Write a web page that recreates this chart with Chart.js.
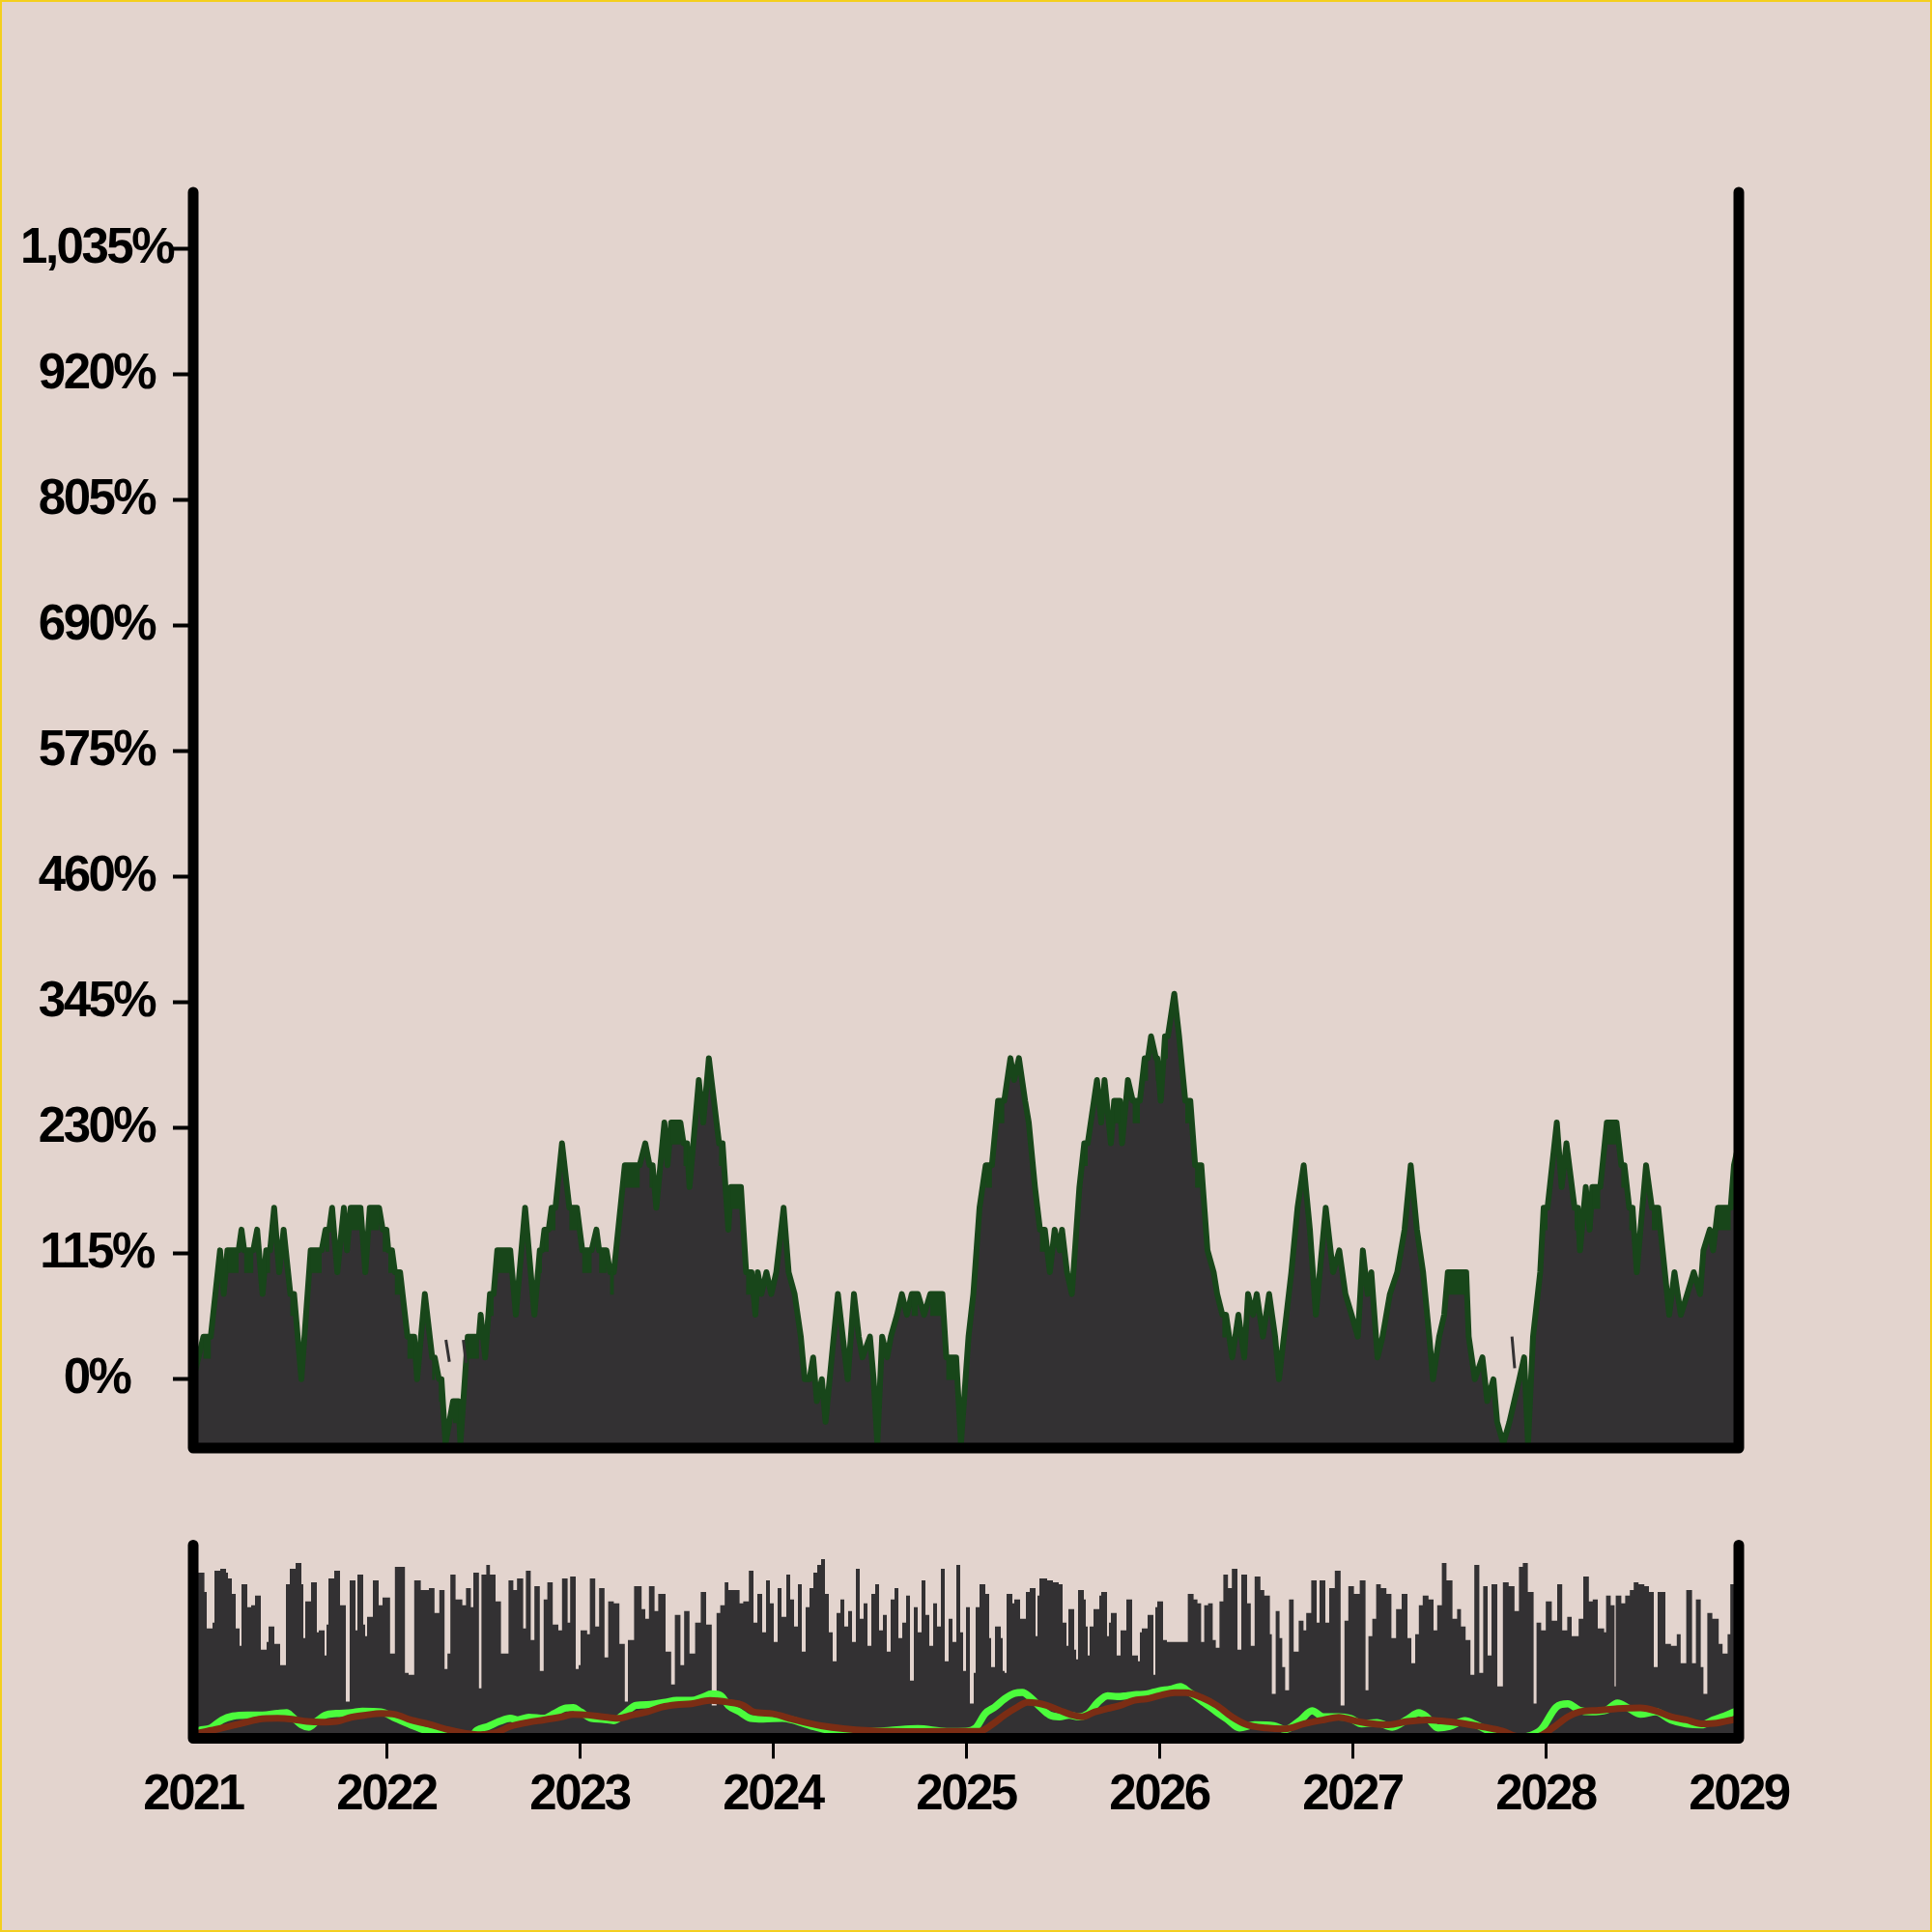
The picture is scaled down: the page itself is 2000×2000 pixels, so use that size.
<!DOCTYPE html>
<html><head><meta charset="utf-8">
<script src="https://cdn.jsdelivr.net/npm/chart.js@4.4.1/dist/chart.umd.min.js"></script>
<style>
html,body{margin:0;padding:0;background:#e3d4ce;}
#stage{position:absolute;left:0;top:0;width:2000px;height:2000px;background:#e3d4ce;overflow:hidden;}
#main{position:absolute;left:0;top:0;}
#nav{position:absolute;left:0;top:1560px;}
#edge{position:absolute;left:0;top:0;width:2000px;height:2000px;box-sizing:border-box;border:2px solid #f4cf1d;pointer-events:none;}
</style></head><body>
<div id="stage">
<canvas id="main" width="2000" height="1540" style="width:2000px;height:1540px"></canvas>
<canvas id="nav" width="2000" height="440" style="width:2000px;height:440px"></canvas>
<div id="edge"></div>
</div>
<script>
// ---------- DATA ----------
const xTicks = [2021,2022,2023,2024,2025,2026,2027,2028,2029];
const yTicks = [0,115,230,345,460,575,690,805,920,1035];
const yMin = -63, yMax = 1086;

// main series vertices (year, %)
const mainX = [
2021.000,2021.053,2021.091,2021.139,2021.158,2021.177,2021.235,2021.250,2021.264,2021.311,
2021.331,2021.359,2021.378,2021.398,2021.419,2021.445,2021.468,2021.503,2021.522,2021.560,
2021.608,2021.665,2021.685,2021.704,2021.719,2021.746,2021.780,2021.796,2021.815,2021.866,
2021.891,2021.914,2021.962,2021.981,2022.000,2022.010,2022.029,2022.044,2022.071,2022.109,
2022.144,2022.159,2022.199,2022.237,2022.250,2022.272,2022.285,2022.306,2022.345,2022.373,
2022.383,2022.421,2022.479,2022.488,2022.511,2022.536,2022.555,2022.574,2022.641,2022.670,
2022.718,2022.766,2022.794,2022.805,2022.818,2022.840,2022.855,2022.875,2022.909,2022.947,
2022.986,2023.014,2023.062,2023.087,2023.101,2023.139,2023.158,2023.177,2023.234,2023.311,
2023.340,2023.362,2023.378,2023.397,2023.439,2023.455,2023.474,2023.522,2023.538,2023.556,
2023.569,2023.617,2023.640,2023.669,2023.722,2023.740,2023.770,2023.783,2023.835,2023.862,
2023.890,
2023.910,2023.922,2023.941,2023.967,2023.992,2024.018,2024.056,2024.082,2024.113,2024.145,
2024.165,2024.190,2024.209,2024.228,2024.254,2024.273,2024.305,2024.337,2024.362,2024.388,
2024.420,2024.445,2024.464,2024.503,2024.522,2024.541,2024.566,2024.592,2024.611,2024.643,
2024.668,2024.694,2024.719,2024.751,2024.783,2024.815,2024.878,2024.898,2024.949,2024.974,
2025.013,2025.038,2025.070,2025.102,2025.134,2025.166,2025.198,2025.230,2025.249,2025.274,
2025.306,2025.325,2025.357,2025.383,2025.408,2025.434,2025.459,2025.485,2025.497,2025.523,
2025.548,2025.587,2025.612,2025.630,2025.678,2025.700,2025.717,2025.750,2025.767,2025.797,
2025.808,2025.838,2025.863,2025.900,2025.925,2025.942,2025.958,2025.983,2025.990,2026.008,
2026.030,2026.045,2026.078,2026.103,2026.135,2026.161,2026.186,2026.218,2026.250,2026.282,
2026.300,2026.327,2026.346,2026.378,2026.410,2026.440,2026.460,2026.486,2026.505,2026.537,
2026.569,2026.600,2026.620,2026.684,2026.716,2026.748,2026.780,2026.811,2026.862,2026.900,
2026.932,2026.964,2026.996,2027.028,2027.054,2027.079,2027.098,2027.130,2027.156,2027.194,
2027.232,2027.270,2027.302,2027.334,2027.366,2027.398,2027.417,2027.449,2027.475,2027.494,
2027.589,2027.602,2027.634,2027.673,2027.698,2027.730,2027.749,2027.781,2027.813,2027.864,
2027.889,2027.909,2027.935,2027.972,2027.990,
2028.010,2028.058,2028.083,2028.108,2028.150,2028.167,2028.178,2028.208,2028.228,2028.242,
2028.283,2028.317,2028.367,2028.392,2028.408,2028.433,2028.450,2028.472,2028.520,2028.550,
2028.583,2028.640,2028.667,2028.700,2028.733,2028.767,2028.800,2028.817,2028.850,2028.867,
2028.892,2028.958,2028.975,2029.000];
const mainY = [
0,39,39,118,78,118,118,137,118,118,
137,78,118,118,157,98,137,78,78,0,
118,118,137,137,157,98,157,118,157,157,
98,157,157,137,137,118,118,98,98,39,
39,0,78,20,20,0,0,-59,-20,-20,
-59,39,39,59,20,78,78,118,118,59,
157,59,118,118,137,137,157,157,216,157,
157,118,118,137,118,118,98,98,196,196,
216,196,196,157,235,196,235,235,216,216,
176,274,235,294,216,216,137,176,176,98,
98,
59,98,78,98,78,98,157,98,78,39,
0,0,20,-20,0,-39,20,78,39,0,
78,39,20,39,0,-59,39,20,39,59,
78,59,78,78,59,78,78,20,20,-59,
39,78,157,196,196,255,255,294,274,294,
255,235,176,137,137,98,137,118,137,98,
78,176,216,216,274,235,274,216,255,255,
216,274,255,255,294,294,314,294,294,255,
314,314,353,314,255,255,196,196,118,98,
78,59,59,20,59,20,78,59,78,39,
78,39,0,98,157,196,137,59,157,98,
118,78,59,39,118,78,98,20,39,78,
98,137,196,137,98,39,0,39,59,98,
98,39,0,20,-20,0,-39,-59,-39,0,
20,-59,39,98,157,
157,235,176,216,157,157,118,176,137,176,
176,235,235,196,196,157,157,98,196,157,
157,59,98,59,78,98,78,118,137,118,
157,157,196,216];

// stretches where the series flickers between two adjacent levels
const bandFrom = [
2021.053,2021.177,2021.264,2021.378,2021.503,2021.608,2021.685,2021.815,2021.914,2021.981,
2022.010,2022.044,2022.109,2022.237,2022.272,2022.345,2022.421,2022.536,2022.574,2022.794,
2022.818,2022.855,2022.947,2023.014,2023.101,2023.158,2023.234,2023.362,2023.474,2023.538,
2023.722,2023.783,2023.862,2024.719,2024.815,2024.898,2025.102,2025.166,2025.383,2025.612,
2025.767,2025.863,2025.925,2025.983,2026.030,2026.135,2026.186,2026.327,2027.494,2027.990,
2028.150,2028.242,2028.317,2028.392,2028.433,2028.550,2028.892];
const bandTo = [
2021.091,2021.235,2021.311,2021.398,2021.522,2021.665,2021.704,2021.866,2021.962,2022.000,
2022.029,2022.071,2022.144,2022.250,2022.285,2022.373,2022.479,2022.555,2022.641,2022.805,
2022.840,2022.875,2022.986,2023.062,2023.139,2023.177,2023.311,2023.378,2023.522,2023.556,
2023.740,2023.835,2023.890,2024.751,2024.878,2024.949,2025.134,2025.198,2025.408,2025.630,
2025.797,2025.900,2025.942,2025.990,2026.045,2026.161,2026.218,2026.346,2027.589,2028.010,
2028.167,2028.283,2028.367,2028.408,2028.450,2028.583,2028.958];
const bandLow = [
20,98,98,98,59,98,118,137,137,118,
98,78,20,0,-20,-39,20,59,98,98,
118,137,137,98,98,78,176,176,216,196,
196,157,78,59,59,0,176,235,118,196,
235,235,274,274,294,235,176,39,78,137,
137,157,216,176,137,137,137];
const bandHigh = [
39,118,118,118,78,118,137,157,157,137,
118,98,39,20,0,-20,39,78,118,118,
137,157,157,118,118,98,196,196,235,216,
216,176,98,78,78,20,196,255,137,216,
255,255,294,294,314,255,196,59,98,157,
157,176,235,196,157,157,157];

// thin dark strokes standing above the area where the series leaves the axis range
const stubFrom = [2022.308, 2022.398, 2027.826];
const stubTop = [36, 36, 39];
const stubTo = [2022.326, 2022.412, 2027.840];
const stubBottom = [16, 15, 10];

// navigator histogram: start year of each bar and its height (0-100)
const navX = [
2021.000,2021.058,2021.070,2021.100,2021.110,2021.140,2021.170,2021.180,2021.200,2021.220,2021.240,2021.250,2021.280,2021.300,2021.320,2021.350,2021.380,2021.390,2021.420,2021.450,2021.480,2021.500,2021.530,2021.560,2021.570,2021.580,2021.610,2021.640,2021.650,2021.680,2021.690,2021.700,2021.730,2021.760,2021.790,2021.810,2021.840,2021.850,2021.880,2021.890,2021.900,2021.930,2021.960,2021.980,
2022.019,2022.044,2022.096,2022.115,2022.144,2022.178,2022.220,2022.249,2022.274,2022.301,2022.316,2022.331,2022.358,2022.393,2022.412,2022.437,2022.450,2022.479,2022.492,2022.517,2022.536,2022.565,2022.593,2022.632,2022.657,2022.676,2022.708,2022.722,2022.747,2022.766,2022.794,2022.814,2022.833,2022.861,2022.890,2022.909,2022.938,2022.951,2022.980,2022.995,
2023.005,2023.039,2023.053,2023.081,2023.101,2023.129,2023.148,2023.177,2023.206,2023.234,2023.250,2023.282,2023.321,2023.340,2023.359,2023.388,2023.407,2023.445,2023.474,2023.493,2023.522,2023.541,2023.569,2023.598,2023.627,2023.655,2023.684,2023.709,2023.728,2023.751,2023.770,2023.828,2023.847,2023.876,
2023.900,2023.920,2023.945,2023.965,2023.985,2024.005,2024.025,2024.045,2024.070,2024.090,2024.110,2024.130,2024.150,2024.170,2024.190,2024.210,2024.230,2024.250,2024.270,2024.290,2024.310,2024.330,2024.350,2024.370,2024.390,2024.410,2024.430,2024.450,2024.470,2024.490,2024.510,2024.530,2024.550,2024.570,2024.590,2024.610,2024.630,2024.650,2024.670,2024.690,2024.710,2024.730,2024.750,2024.770,2024.790,2024.810,2024.830,2024.850,2024.870,2024.890,2024.910,2024.930,2024.950,2024.970,2024.985,
2025.000,2025.020,2025.040,2025.050,2025.070,2025.100,2025.120,2025.130,2025.150,2025.180,2025.190,2025.200,2025.210,2025.240,2025.250,2025.280,2025.310,2025.330,2025.360,2025.370,2025.380,2025.410,2025.420,2025.450,2025.480,2025.500,2025.520,2025.530,2025.560,2025.570,2025.580,2025.610,2025.620,2025.630,2025.640,2025.660,2025.690,2025.700,2025.730,2025.740,2025.750,2025.780,2025.800,2025.830,2025.860,2025.890,2025.900,2025.910,2025.940,2025.970,2025.980,2025.990,
2026.000,2026.020,2026.040,2026.148,2026.178,2026.198,2026.217,2026.233,2026.253,2026.277,2026.293,2026.312,2026.332,2026.356,2026.376,2026.405,2026.425,2026.455,2026.474,2026.494,2026.524,2026.544,2026.573,2026.583,2026.603,2026.623,2026.637,2026.652,2026.672,2026.696,2026.722,2026.747,2026.761,2026.787,2026.815,2026.830,2026.860,2026.880,2026.909,2026.939,2026.959,2026.979,
2027.008,2027.038,2027.068,2027.083,2027.103,2027.123,2027.147,2027.176,2027.202,2027.226,2027.255,2027.285,2027.305,2027.325,2027.344,2027.364,2027.394,2027.420,2027.439,2027.463,2027.487,2027.518,2027.542,2027.562,2027.586,2027.611,2027.631,2027.657,2027.677,2027.700,2027.720,2027.750,2027.779,2027.809,2027.839,2027.862,2027.882,2027.908,2027.938,2027.953,2027.977,
2028.001,2028.032,2028.060,2028.086,2028.112,2028.135,2028.171,2028.195,2028.224,2028.244,2028.270,2028.303,2028.313,2028.337,2028.357,2028.363,2028.392,2028.412,2028.436,2028.456,2028.481,2028.511,2028.535,2028.560,2028.580,2028.620,2028.649,2028.679,2028.699,2028.728,2028.758,2028.778,2028.803,2028.817,2028.837,2028.863,2028.896,2028.916,2028.942,2028.956];
const navH = [
86,76,57,60,87,88,86,83,75,57,48,80,68,69,74,46,50,58,49,38,80,88,91,80,52,71,81,55,56,43,59,83,87,69,19,82,56,85,59,53,63,82,69,73,
44,89,34,33,82,77,78,65,77,36,44,85,72,69,78,68,86,26,85,90,85,71,44,82,77,83,57,87,51,79,35,72,81,59,56,83,60,84,36,38,
56,54,83,58,78,42,71,70,49,19,51,79,67,62,79,66,75,45,28,64,38,66,44,60,76,59,17,65,69,81,77,70,71,87,
60,75,55,82,70,50,78,63,85,72,58,80,45,68,78,86,90,93,75,55,40,65,72,58,66,50,88,62,70,48,75,80,56,64,45,72,78,52,60,74,30,68,55,82,64,48,70,58,88,40,62,50,90,55,35,
68,18,34,68,80,75,52,37,58,52,35,34,75,70,72,62,76,78,53,74,83,83,82,81,80,60,48,67,46,41,77,72,58,43,58,67,74,76,53,60,65,43,56,72,43,40,55,57,64,33,68,71,
71,51,50,75,72,70,50,69,70,51,47,71,85,78,88,46,85,70,48,84,77,74,54,23,66,52,37,25,72,45,61,56,65,82,60,82,60,78,87,17,61,79,
75,82,25,53,62,80,78,75,52,67,75,52,39,54,69,74,72,56,69,91,82,62,67,58,51,33,90,34,79,43,80,27,81,79,66,89,91,76,18,60,56,
71,61,80,56,63,53,62,84,71,72,57,55,74,69,27,74,70,74,77,81,80,79,76,37,76,49,48,54,39,77,39,72,37,23,65,62,49,44,54,80];

// navigator fast average (green) and slow average (brown), in %
const greenX = [2021.034,2021.091,2021.149,2021.206,2021.283,2021.359,2021.436,2021.484,2021.512,2021.560,2021.598,2021.637,2021.685,2021.742,2021.818,2021.876,2021.972,2022.048,2022.125,2022.201,2022.278,2022.354,2022.431,2022.469,2022.526,2022.584,2022.641,2022.680,2022.737,2022.814,2022.871,2022.928,2022.967,2023.005,2023.062,2023.120,2023.177,2023.234,2023.292,2023.368,2023.445,2023.502,2023.579,2023.636,2023.684,2023.732,2023.770,2023.828,2023.885,2023.950,2024.050,2024.100,2024.200,2024.300,2024.450,2024.600,2024.750,2024.900,2025.000,2025.050,2025.100,2025.150,2025.200,2025.250,2025.292,2025.333,2025.383,2025.433,2025.483,2025.533,2025.583,2025.633,2025.683,2025.733,2025.783,2025.833,2025.883,2025.933,2026.000,2026.059,2026.109,2026.158,2026.217,2026.297,2026.356,2026.415,2026.494,2026.593,2026.652,2026.732,2026.791,2026.850,2026.929,2026.989,2027.048,2027.127,2027.206,2027.285,2027.344,2027.384,2027.443,2027.503,2027.582,2027.641,2027.720,2027.819,2027.918,2027.977,2028.056,2028.115,2028.175,2028.234,2028.313,2028.372,2028.432,2028.491,2028.570,2028.649,2028.728,2028.807,2028.867,2028.926,2028.966,2029.000];
const greenY = [46,59,105,127,133,133,142,146,123,77,64,96,133,142,146,155,151,114,77,46,32,5,5,46,68,96,114,105,120,114,142,173,175,151,114,109,101,142,188,193,206,216,216,234,253,243,188,151,114,110,115,105,70,45,39,44,55,39,40,59,142,179,225,256,262,234,179,133,123,133,123,142,206,243,238,243,249,252,271,280,295,261,216,151,105,59,77,72,50,105,157,123,123,114,83,90,64,109,146,123,59,68,101,77,35,0,15,50,179,197,160,151,160,201,170,138,151,105,83,77,105,127,146,160];
const brownX = [2021.034,2021.130,2021.244,2021.340,2021.436,2021.512,2021.589,2021.665,2021.742,2021.818,2021.895,2021.972,2022.048,2022.125,2022.220,2022.316,2022.412,2022.488,2022.565,2022.641,2022.737,2022.814,2022.909,2022.967,2023.043,2023.120,2023.196,2023.273,2023.349,2023.426,2023.502,2023.579,2023.675,2023.770,2023.847,2023.900,2024.000,2024.100,2024.250,2024.500,2024.750,2025.000,2025.067,2025.133,2025.200,2025.267,2025.317,2025.367,2025.417,2025.483,2025.550,2025.600,2025.667,2025.733,2025.800,2025.867,2025.933,2026.000,2026.079,2026.138,2026.217,2026.297,2026.376,2026.455,2026.554,2026.652,2026.751,2026.850,2026.929,2027.028,2027.107,2027.186,2027.285,2027.384,2027.483,2027.582,2027.681,2027.779,2027.858,2027.957,2028.036,2028.115,2028.175,2028.274,2028.372,2028.491,2028.570,2028.649,2028.728,2028.807,2028.886,2028.966,2029.000];
const brownY = [32,54,83,109,114,109,96,92,96,120,133,142,136,105,81,50,28,20,32,68,92,105,123,136,133,123,114,133,151,179,192,197,216,206,188,151,140,110,72,44,39,40,40,77,133,179,206,201,188,160,133,123,151,170,188,216,225,243,261,261,234,188,123,77,59,54,83,105,120,96,83,77,96,105,96,83,64,41,10,10,59,123,151,160,170,174,157,123,105,83,87,105,110];

// ---------- STYLE ----------
const FONT = '"Liberation Sans", Arial, Helvetica, sans-serif';
const LS = '-2.5px';
const INK = '#000000';
const AREA = '#333133';
const LINE_DARK = '#18461a';
const GREEN = '#4cfc3c';
const BROWN = '#7b2d14';
Chart.defaults.font.family = FONT;

const fmtPct = v => Number(v).toLocaleString('en-US') + '%';
const spacing = {id:'spacing',
  beforeUpdate(c){c.ctx.letterSpacing = LS;},
  beforeLayout(c){c.ctx.letterSpacing = LS;},
  beforeDraw(c){c.ctx.letterSpacing = LS;}};
const frame = {id:'frame', afterDraw(c, args, o){
  const a = c.chartArea, ctx = c.ctx;
  ctx.save(); ctx.strokeStyle = INK; ctx.lineWidth = o.width; ctx.lineCap = 'round'; ctx.lineJoin = 'round';
  ctx.beginPath(); ctx.moveTo(a.left, a.top - o.over); ctx.lineTo(a.left, a.bottom);
  ctx.lineTo(a.right, a.bottom); ctx.lineTo(a.right, a.top - o.over); ctx.stroke(); ctx.restore();
}};

// label padding so that y labels are centred at x = 100
const mc = document.createElement('canvas').getContext('2d');
mc.font = 'bold 51px ' + FONT; mc.letterSpacing = LS;
const widest = Math.max(...yTicks.map(v => mc.measureText(fmtPct(v)).width));
const Y_AXIS_W = 200, Y_TICK = 21, LABEL_CX = 100;
const yPad = Y_AXIS_W - Y_TICK - LABEL_CX - widest / 2;

// ---------- MAIN CHART ----------
const mainPts = mainX.map((x, i) => ({x, y: mainY[i]}));
const bandPts = [];
bandFrom.forEach((f, i) => {
  const m = (bandLow[i] + bandHigh[i]) / 2;
  bandPts.push({x: f, y: m}, {x: bandTo[i], y: m}, {x: bandTo[i], y: null});
});
const stubPts = [];
stubFrom.forEach((f, i) => {
  stubPts.push({x: f, y: stubTop[i]}, {x: stubTo[i], y: stubBottom[i]}, {x: stubTo[i], y: null});
});

new Chart(document.getElementById('main'), {
  type: 'line',
  data: {datasets: [
    {data: stubPts, borderColor: AREA, borderWidth: 3, borderCapStyle: 'butt', pointRadius: 0, fill: false, spanGaps: false, order: 0},
    {data: bandPts, borderColor: LINE_DARK, borderWidth: 24, borderCapStyle: 'butt', pointRadius: 0, fill: false, spanGaps: false, order: 1},
    {data: mainPts, borderColor: LINE_DARK, borderWidth: 6, borderJoinStyle: 'round', borderCapStyle: 'round', backgroundColor: AREA, fill: 'start', pointRadius: 0, tension: 0, order: 2}
  ]},
  options: {
    responsive: false, animation: false, devicePixelRatio: 1, events: [],
    layout: {padding: {top: 200, right: 200, bottom: 41, left: 0}},
    plugins: {legend: {display: false}, tooltip: {enabled: false}, frame: {width: 11, over: 1}},
    scales: {
      x: {type: 'linear', min: xTicks[0], max: xTicks[xTicks.length - 1], display: false},
      y: {type: 'linear', min: yMin, max: yMax,
        afterBuildTicks: s => { s.ticks = yTicks.map(v => ({value: v})); },
        afterFit: s => { s.width = Y_AXIS_W; },
        border: {display: false},
        grid: {drawOnChartArea: false, drawTicks: true, tickLength: Y_TICK, tickWidth: 4, tickColor: INK},
        ticks: {crossAlign: 'center', padding: yPad, color: INK, autoSkip: false,
          font: {family: FONT, size: 51, weight: 'bold'}, callback: v => fmtPct(v)}
      }
    }
  },
  plugins: [spacing, frame]
});

// ---------- NAVIGATOR ----------
const navPts = navX.map((x, i) => ({x, y: navH[i]}));
navPts.push({x: xTicks[xTicks.length - 1], y: navH[navH.length - 1]});
const greenPts = greenX.map((x, i) => ({x, y: greenY[i]}));
const brownPts = brownX.map((x, i) => ({x, y: brownY[i]}));

new Chart(document.getElementById('nav'), {
  type: 'line',
  data: {datasets: [
    {data: brownPts, yAxisID: 'y2', borderColor: BROWN, borderWidth: 7, pointRadius: 0, fill: false, cubicInterpolationMode: 'monotone', borderCapStyle: 'round', order: 0},
    {data: greenPts, yAxisID: 'y2', borderColor: GREEN, borderWidth: 7.5, pointRadius: 0, fill: false, cubicInterpolationMode: 'monotone', borderCapStyle: 'round', order: 1},
    {data: navPts, yAxisID: 'y', stepped: true, borderWidth: 0, borderColor: AREA, backgroundColor: AREA, fill: 'start', pointRadius: 0, order: 2}
  ]},
  options: {
    responsive: false, animation: false, devicePixelRatio: 1, events: [],
    layout: {padding: {top: 40, right: 200, bottom: 100.5, left: 200}},
    plugins: {legend: {display: false}, tooltip: {enabled: false}, frame: {width: 11, over: 0.5}},
    scales: {
      x: {type: 'linear', min: xTicks[0], max: xTicks[xTicks.length - 1],
        afterBuildTicks: s => { s.ticks = xTicks.map(v => ({value: v})); },
        afterFit: s => { s.height = 100; },
        border: {display: false},
        grid: {drawOnChartArea: false, drawTicks: true, tickLength: 21, tickWidth: 3,
          tickColor: c => (c.index === 0 || c.index === xTicks.length - 1) ? 'rgba(0,0,0,0)' : INK},
        ticks: {color: INK, padding: 8, maxRotation: 0, autoSkip: false,
          font: {family: FONT, size: 51, weight: 'bold'}, callback: v => String(v)}
      },
      y: {type: 'linear', min: 0, max: 100, display: false},
      y2: {type: 'linear', min: 0, max: 1100, display: false}
    }
  },
  plugins: [spacing, frame]
});
</script>
</body></html>
